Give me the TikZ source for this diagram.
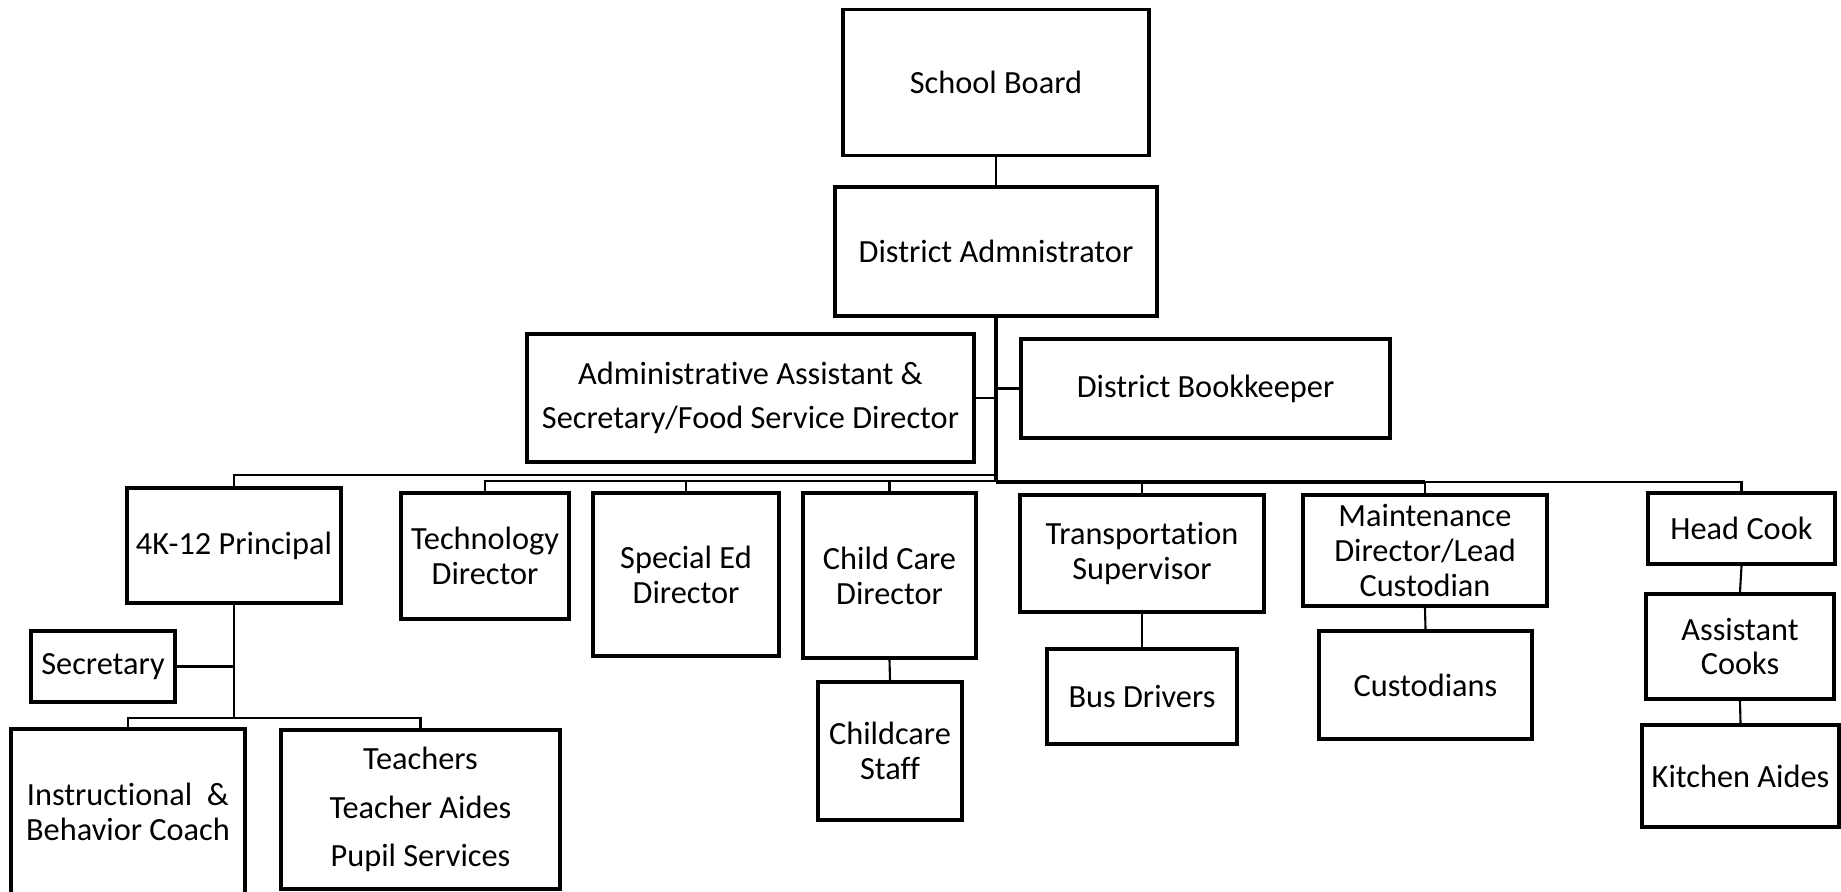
\documentclass[tikz,border=0pt]{standalone}
\usepackage{fontspec}
\setmainfont{Carlito}[Ligatures={NoCommon,NoContextual},Contextuals=NoAlternate]
\usepackage{xcolor}
\usepackage{tikz}
\usetikzlibrary{calc}

\begin{document}
\begin{tikzpicture}[
  box/.style={draw=black, line width=2.2pt, align=center, inner sep=0pt,
    font=\fontsize{18.4}{19.8}\selectfont},
  link/.style={line width=1.2pt},
  bus/.style={line width=2pt}]

\useasboundingbox (0,0) rectangle (36.82,-17.84);

\node[box, minimum width=6.12cm, minimum height=2.92cm] (board) at (19.92,-1.65) {School Board};
\node[box, minimum width=6.44cm, minimum height=2.58cm] (admin) at (19.92,-5.03) {District Admnistrator};
\node[box, minimum width=8.94cm, minimum height=2.56cm] (assist) at (15.01,-7.96) {Administrative Assistant \&\\[5pt]Secretary/Food Service Director};
\node[box, minimum width=7.38cm, minimum height=1.98cm] (keeper) at (24.11,-7.77) {District Bookkeeper};

\node[box, minimum width=4.28cm, minimum height=2.30cm] (principal) at (4.68,-10.91) {4K-12 Principal};
\node[box, minimum width=3.36cm, minimum height=2.52cm] (tech) at (9.70,-11.12) {Technology\\Director};
\node[box, minimum width=3.72cm, minimum height=3.26cm] (sped) at (13.72,-11.49) {Special Ed\\Director};
\node[box, minimum width=3.46cm, minimum height=3.30cm] (care) at (17.79,-11.51) {Child Care\\Director};
\node[box, minimum width=2.88cm, minimum height=2.76cm] (staff) at (17.80,-15.02) {Childcare\\Staff};
\node[box, minimum width=4.88cm, minimum height=2.34cm] (transport) at (22.84,-11.07) {Transportation\\Supervisor};
\node[box, minimum width=3.80cm, minimum height=1.90cm] (drivers) at (22.84,-13.93) {Bus Drivers};
\node[box, minimum width=4.88cm, minimum height=2.22cm] (maint) at (28.50,-11.01) {Maintenance\\Director/Lead\\Custodian};
\node[box, minimum width=4.26cm, minimum height=2.16cm] (custod) at (28.51,-13.70) {Custodians};
\node[box, minimum width=3.74cm, minimum height=1.42cm] (headcook) at (34.83,-10.57) {Head Cook};
\node[box, minimum width=3.76cm, minimum height=2.10cm] (cooks) at (34.80,-12.93) {Assistant\\Cooks};
\node[box, minimum width=3.94cm, minimum height=2.04cm] (aides) at (34.81,-15.52) {Kitchen Aides};

\node[box, minimum width=2.88cm, minimum height=1.42cm] (secretary) at (2.06,-13.33) {Secretary};
\node[box, minimum width=4.68cm, minimum height=3.32cm] (coach) at (2.56,-16.24) {Instructional~~\&\\Behavior Coach};
\node[box, minimum width=5.58cm, minimum height=3.18cm] (teachers) at (8.41,-16.19) {Teachers\\[8pt]Teacher Aides\\[8pt]Pupil Services};

\coordinate (hub) at (19.92,-9.64);
\coordinate (busA) at (19.92,-9.50);
\coordinate (busB) at (19.92,-9.62);
\coordinate (pbranch) at (4.68,-14.36);

\draw[link] (board.south) -- (admin.north);
\draw[bus] (admin.south) -- (hub);
\draw[link] (assist.east) -- (assist.east -| hub);
\draw[link] (keeper.west) -- (keeper.west -| hub);

\draw[link] (busA) -| (principal.north);
\draw[link] (busB) -| (tech.north);
\draw[link] (sped.north) -- (sped.north |- busB);
\draw[link] (care.north) -- (care.north |- busB);

\draw[bus] (hub) -- (maint.north |- hub);
\draw[link] (maint.north |- hub) -| (headcook.north);
\draw[link] (transport.north) -- (transport.north |- hub);
\draw[link] (maint.north) -- (maint.north |- hub);

\draw[link] (care.south) -- (staff.north);
\draw[link] (transport.south) -- (drivers.north);
\draw[link] (maint.south) -- (custod.north);
\draw[link] (headcook.south) -- (cooks.north);
\draw[link] (cooks.south) -- (aides.north);

\draw[link] (principal.south) -- (pbranch);
\draw[link] (secretary.east) -- (secretary.east -| principal.south);
\draw[link] (pbranch) -| (coach.north);
\draw[link] (pbranch) -| (teachers.north);

\end{tikzpicture}
\end{document}
